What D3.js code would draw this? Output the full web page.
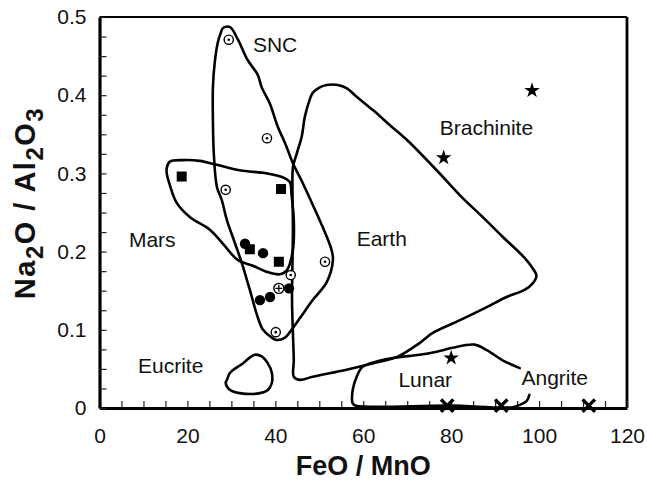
<!DOCTYPE html>
<html>
<head>
<meta charset="utf-8">
<script src="https://cdn.jsdelivr.net/npm/d3@7"></script>
<style>
  body { margin: 0; background: #fff; }
  text { font-family: "Liberation Sans", Arial, sans-serif; fill: #111; }
</style>
</head>
<body>
<div id="chart"></div>
<script>
// FeO/MnO vs Na2O/Al2O3 - planetary basalt fields

var xTicks = [0, 20, 40, 60, 80, 100, 120];
var yTicks = [0, 0.1, 0.2, 0.3, 0.4, 0.5];

// point groups [FeO/MnO, Na2O/Al2O3]
var sncDots = [[29.4, 0.471], [38.1, 0.345], [28.7, 0.279], [51.3, 0.187], [43.5, 0.170], [40.1, 0.097]];
var sncCrossed = [[40.8, 0.153]];
var marsSquares = [[18.7, 0.296], [41.3, 0.280], [34.2, 0.203], [40.8, 0.187]];
var marsCircles = [[33.1, 0.210], [37.2, 0.198], [36.5, 0.138], [38.8, 0.142], [43.1, 0.153]];
var brachStars = [[98.4, 0.406], [78.3, 0.320], [80.0, 0.064]];
var angriteX = [[79.1, 0.003], [91.4, 0.003], [111.3, 0.003]];

// field outlines
var sncField = [[28.1, 0.486], [29.7, 0.487], [31.5, 0.471], [33.7, 0.445], [36.0, 0.426], [36.9, 0.410],
  [38.7, 0.390], [40.6, 0.359], [42.2, 0.339], [44.0, 0.313], [46.2, 0.288], [48.5, 0.260], [50.8, 0.231],
  [52.8, 0.202], [53.1, 0.189], [51.7, 0.161], [48.5, 0.138], [45.6, 0.115], [43.3, 0.097], [42.2, 0.090],
  [40.3, 0.087], [39.2, 0.090], [37.2, 0.100], [36.0, 0.116], [34.2, 0.151], [32.4, 0.185], [30.8, 0.211],
  [29.0, 0.240], [27.8, 0.266], [26.7, 0.283], [26.0, 0.326], [25.8, 0.368], [25.8, 0.410], [26.2, 0.441],
  [26.9, 0.467], [27.6, 0.480]];
var marsField = [[15.3, 0.307], [16.0, 0.315], [19.0, 0.317], [22.8, 0.316], [26.7, 0.311], [31.9, 0.304],
  [38.1, 0.300], [41.7, 0.295], [43.3, 0.289], [43.7, 0.272], [44.2, 0.240], [44.0, 0.202], [42.6, 0.176],
  [41.0, 0.171], [38.1, 0.174], [34.9, 0.182], [31.5, 0.189], [28.1, 0.210], [25.1, 0.228], [20.6, 0.244],
  [17.6, 0.262], [16.0, 0.285], [15.3, 0.300]];
var earthField = [[44.2, 0.040], [45.6, 0.036], [48.5, 0.040], [56.2, 0.049], [63.7, 0.059], [67.6, 0.065],
  [72.8, 0.083], [75.8, 0.096], [81.9, 0.112], [88.1, 0.129], [92.6, 0.142], [96.7, 0.151], [98.5, 0.159],
  [99.4, 0.169], [98.5, 0.179], [96.7, 0.192], [91.7, 0.219], [87.2, 0.244], [82.0, 0.272], [76.7, 0.304],
  [69.9, 0.343], [66.0, 0.362], [62.2, 0.381], [58.5, 0.398], [56.2, 0.409], [54.2, 0.413], [51.7, 0.413],
  [50.1, 0.410], [48.5, 0.403], [47.8, 0.394], [46.7, 0.372], [46.0, 0.347], [44.9, 0.326], [44.0, 0.308],
  [43.9, 0.283], [44.0, 0.228], [43.8, 0.138], [44.0, 0.096], [44.2, 0.061]];
var eucriteField = [[29.0, 0.036], [29.7, 0.045], [32.6, 0.057], [35.3, 0.068], [36.9, 0.066], [38.3, 0.057],
  [39.2, 0.045], [39.2, 0.032], [38.3, 0.023], [36.5, 0.019], [31.9, 0.019], [29.7, 0.023], [28.7, 0.032]];
var lunarField = [[95.6, 0.051], [91.7, 0.061], [88.1, 0.074], [85.3, 0.081], [80.3, 0.077], [76.7, 0.072],
  [72.8, 0.068], [66.7, 0.064], [61.5, 0.057], [59.7, 0.052], [58.5, 0.040], [57.6, 0.023], [57.6, 0.006],
  [58.3, 0.003], [79.7, 0.003], [94.0, 0.001], [95.6, 0.004], [97.2, 0.009], [97.8, 0.017]];

var fieldNames = ["SNC", "Brachinite", "Mars", "Earth", "Eucrite", "Lunar", "Angrite"];
var fieldLabelAt = [[34.9, 0.455], [77.4, 0.349], [6.7, 0.206], [58.5, 0.207], [8.75, 0.045], [68.0, 0.027], [96.0, 0.029]];

var width = 647, height = 480;
var svg = d3.select("#chart").append("svg")
  .attr("width", width)
  .attr("height", height);

var x = d3.scaleLinear().domain([0, 120]).range([99.5, 627]);
var y = d3.scaleLinear().domain([0, 0.5]).range([408, 17]);

// frame top and right
svg.append("line")
  .attr("x1", x(0)).attr("x2", x(120)).attr("y1", y(0.5)).attr("y2", y(0.5))
  .attr("stroke", "#000").attr("stroke-width", 2.2);
svg.append("line")
  .attr("x1", x(120)).attr("x2", x(120)).attr("y1", y(0.5)).attr("y2", y(0))
  .attr("stroke", "#000").attr("stroke-width", 2.8);

var xAxis = d3.axisBottom(x)
  .tickValues(d3.range(0, 121, 5))
  .tickFormat(function(d) { return xTicks.indexOf(d) >= 0 ? d : ""; })
  .tickSizeInner(-7).tickSizeOuter(0).tickPadding(20);
var gx = svg.append("g").attr("transform", "translate(0," + y(0) + ")").call(xAxis);

var yAxis = d3.axisLeft(y)
  .tickValues(d3.range(0, 0.5001, 0.025))
  .tickFormat(function(d) {
    var hit = yTicks.filter(function(t) { return Math.abs(t - d) < 1e-6; });
    if (!hit.length) return "";
    return hit[0] === 0 ? "0" : d3.format(".1f")(hit[0]);
  })
  .tickSizeInner(-7).tickSizeOuter(0).tickPadding(13);
var gy = svg.append("g").attr("transform", "translate(" + x(0) + ",0)").call(yAxis);

[gx, gy].forEach(function(g) {
  g.select(".domain").attr("stroke", "#000").attr("stroke-width", 3.2);
  g.selectAll(".tick line").attr("stroke", "#222").attr("stroke-width", 1.2);
  g.selectAll(".tick text").style("font-size", "21px").attr("fill", "#111");
});

// fields
var closedLine = d3.line()
  .x(function(d) { return x(d[0]); })
  .y(function(d) { return y(d[1]); })
  .curve(d3.curveCatmullRomClosed.alpha(0.5));
var openLine = d3.line()
  .x(function(d) { return x(d[0]); })
  .y(function(d) { return y(d[1]); })
  .curve(d3.curveCatmullRom.alpha(0.5));

[sncField, marsField, earthField, eucriteField].forEach(function(f) {
  svg.append("path").attr("d", closedLine(f))
    .attr("fill", "none").attr("stroke", "#000").attr("stroke-width", 2.6)
    .attr("stroke-linejoin", "round");
});
svg.append("path").attr("d", openLine(lunarField))
  .attr("fill", "none").attr("stroke", "#000").attr("stroke-width", 2.6)
  .attr("stroke-linejoin", "round").attr("stroke-linecap", "round");

// field labels
svg.selectAll(".flabel")
  .data(fieldNames)
  .enter().append("text")
  .attr("class", "flabel")
  .attr("x", function(d, i) { return x(fieldLabelAt[i][0]); })
  .attr("y", function(d, i) { return y(fieldLabelAt[i][1]); })
  .style("font-size", "21px")
  .text(function(d) { return d; });

// markers
svg.selectAll(".sq").data(marsSquares).enter().append("path")
  .attr("transform", function(d) { return "translate(" + x(d[0]) + "," + y(d[1]) + ")"; })
  .attr("d", d3.symbol().type(d3.symbolSquare).size(100))
  .attr("fill", "#000");

svg.selectAll(".fc").data(marsCircles).enter().append("circle")
  .attr("cx", function(d) { return x(d[0]); })
  .attr("cy", function(d) { return y(d[1]); })
  .attr("r", 5.2).attr("fill", "#000");

var dots = svg.selectAll(".od").data(sncDots).enter().append("g")
  .attr("transform", function(d) { return "translate(" + x(d[0]) + "," + y(d[1]) + ")"; });
dots.append("circle").attr("r", 4.6).attr("fill", "#fff").attr("stroke", "#000").attr("stroke-width", 1.4);
dots.append("circle").attr("r", 1.3).attr("fill", "#000");

var crossed = svg.selectAll(".oc").data(sncCrossed).enter().append("g")
  .attr("transform", function(d) { return "translate(" + x(d[0]) + "," + y(d[1]) + ")"; });
crossed.append("circle").attr("r", 5).attr("fill", "#fff").attr("stroke", "#000").attr("stroke-width", 1.4);
crossed.append("path").attr("d", "M-3.5,0H3.5M0,-3.5V3.5").attr("stroke", "#000").attr("stroke-width", 1.3);

svg.selectAll(".st").data(brachStars).enter().append("path")
  .attr("transform", function(d) { return "translate(" + x(d[0]) + "," + y(d[1]) + ")"; })
  .attr("d", d3.symbol().type(d3.symbolStar).size(75))
  .attr("fill", "#000");

svg.selectAll(".tx").data(angriteX).enter().append("path")
  .attr("transform", function(d) { return "translate(" + x(d[0]) + "," + y(d[1]) + ")"; })
  .attr("d", "M-5,-5L5,5M5,-5L-5,5")
  .attr("stroke", "#000").attr("stroke-width", 3.4).attr("stroke-linecap", "square");

// axis titles
svg.append("text")
  .attr("x", x(60)).attr("y", 475)
  .attr("text-anchor", "middle")
  .style("font-size", "27px").style("font-weight", "bold")
  .text("FeO / MnO");

var yt = svg.append("text")
  .attr("transform", "translate(35,203) rotate(-90)")
  .attr("text-anchor", "middle")
  .style("font-size", "29px").style("font-weight", "bold")
  .style("letter-spacing", "1.5px");
yt.append("tspan").text("Na");
yt.append("tspan").attr("dy", 8).style("font-size", "24px").text("2");
yt.append("tspan").attr("dy", -8).text("O / Al");
yt.append("tspan").attr("dy", 8).style("font-size", "24px").text("2");
yt.append("tspan").attr("dy", -8).text("O");
yt.append("tspan").attr("dy", 8).style("font-size", "24px").text("3");
</script>
</body>
</html>
